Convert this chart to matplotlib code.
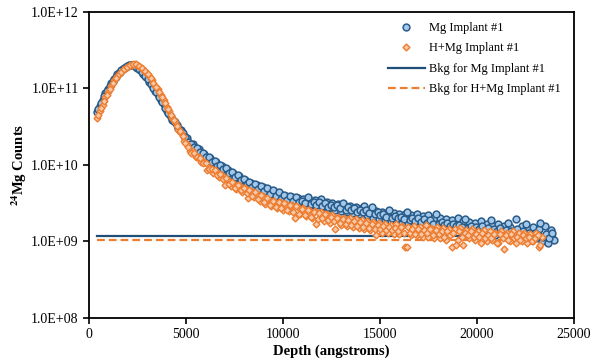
import matplotlib
matplotlib.use('Agg')
import matplotlib.pyplot as plt
import numpy as np

# depth grid (angstroms), first pass of readings
depth = [
    400, 550, 700, 850, 1000, 1150, 1300, 1450, 1600, 1750,
    1900, 2050, 2200, 2350, 2500, 2650, 2800, 2950, 3100, 3250,
    3400, 3550, 3700, 3850, 4000, 4150, 4300, 4450, 4600, 4750,
    4900, 5050, 5200, 5350, 5500, 5650, 5800, 5950, 6100, 6250,
    6400, 6550, 6700, 6850, 7000, 7150, 7300, 7450, 7600, 7750,
    7900, 8050, 8200, 8350, 8500, 8650, 8800, 8950, 9100, 9250,
    9400, 9550, 9700, 9850, 10000, 10150, 10300, 10450, 10600, 10750,
    10900, 11050, 11200, 11350, 11500, 11650, 11800, 11950, 12100, 12250,
    12400, 12550, 12700, 12850, 13000, 13150, 13300, 13450, 13600, 13750,
    13900, 14050, 14200, 14350, 14500, 14650, 14800, 14950, 15100, 15250,
    15400, 15550, 15700, 15850, 16000, 16150, 16300, 16450, 16600, 16750,
    16900, 17050, 17200, 17350, 17500, 17650, 17800, 17950, 18100, 18250,
    18400, 18550, 18700, 18850, 19000, 19150, 19300, 19450, 19600, 19750,
    19900, 20050, 20200, 20350, 20500, 20650, 20800, 20950, 21100, 21250,
    21400, 21550, 21700, 21850, 22000, 22150, 22300, 22450, 22600, 22750,
    22900, 23050, 23200, 23350, 23500, 23650, 23800, 23950,
]

# in-between depths, second pass of readings
depth_b = [
    475, 625, 775, 925, 1075, 1225, 1375, 1525, 1675, 1825,
    1975, 2125, 2275, 2425, 2575, 2725, 2875, 3025, 3175, 3325,
    3475, 3625, 3775, 3925, 4075, 4225, 4375, 4525, 4675, 4825,
    4975, 5125, 5275, 5425, 5575, 5725, 5875, 6025, 6175, 6325,
    6475, 6625, 6775, 6925, 7075, 7225, 7375, 7525, 7675, 7825,
    7975, 8125, 8275, 8425, 8575, 8725, 8875, 9025, 9175, 9325,
    9475, 9625, 9775, 9925, 10075, 10225, 10375, 10525, 10675, 10825,
    10975, 11125, 11275, 11425, 11575, 11725, 11875, 12025, 12175, 12325,
    12475, 12625, 12775, 12925, 13075, 13225, 13375, 13525, 13675, 13825,
    13975, 14125, 14275, 14425, 14575, 14725, 14875, 15025, 15175, 15325,
    15475, 15625, 15775, 15925, 16075, 16225, 16375, 16525, 16675, 16825,
    16975, 17125, 17275, 17425, 17575, 17725, 17875, 18025, 18175, 18325,
    18475, 18625, 18775, 18925, 19075, 19225, 19375, 19525, 19675, 19825,
    19975, 20125, 20275, 20425, 20575, 20725, 20875, 21025, 21175, 21325,
    21475, 21625, 21775, 21925, 22075, 22225, 22375, 22525, 22675, 22825,
    22975, 23125, 23275, 23425, 23575, 23725, 23875,
]

# 24Mg counts, in units of 1e9
mg_counts = [
    48.5, 58.5, 70, 88, 99, 116, 131, 153, 164, 181,
    190, 203, 202, 198, 184, 175, 152, 141, 121, 110,
    92, 84, 70, 62, 51, 46, 39, 36, 30, 28.5,
    23.5, 22.5, 18.5, 18.6, 16.0, 16.2, 13.8, 14.0, 12.0, 12.2,
    10.5, 10.9, 9.3, 9.8, 8.4, 8.7, 7.4, 7.8, 6.7, 7.1,
    6.0, 6.3, 5.3, 5.8, 4.9, 5.5, 4.6, 5.1, 4.2, 4.8,
    4.0, 4.5, 3.7, 4.2, 3.5, 3.9, 3.3, 3.8, 3.2, 3.7,
    3.1, 3.6, 3.0, 3.5, 2.95, 3.45, 2.85, 3.6, 2.8, 3.3,
    2.7, 3.15, 2.6, 3.05, 2.5, 2.95, 2.4, 2.9, 2.35, 2.85,
    2.25, 2.75, 2.9, 2.2, 2.6, 2.05, 2.5, 1.95, 2.45, 1.9,
    2.4, 1.85, 2.35, 1.8, 2.3, 1.75, 2.25, 1.7, 2.2, 1.75,
    2.3, 1.65, 2.15, 1.6, 2.2, 1.55, 2.0, 1.5, 2.05, 1.55,
    1.95, 1.4, 1.9, 1.45, 2.05, 1.4, 1.85, 1.35, 1.8, 1.3,
    1.75, 1.35, 1.85, 1.25, 1.7, 1.3, 1.65, 1.2, 1.7, 1.25,
    1.6, 1.15, 1.55, 1.2, 1.95, 1.1, 1.6, 1.15, 1.5, 1.05,
    1.55, 1.1, 1.45, 1.0, 1.6, 0.95, 1.4, 1.05,
]

mg_counts_b = [
    53, 64, 79, 93, 107, 124, 141, 158, 172, 186,
    197, 205, 200, 192, 179, 163, 147, 131, 115, 100,
    89, 76, 66, 56, 48, 42, 37.5, 33, 29, 26,
    23, 20, 18.8, 17.0, 16.5, 14.6, 14.4, 12.6, 12.5, 11.0,
    11.2, 9.8, 9.9, 8.8, 9.0, 7.8, 8.0, 7.0, 7.3, 6.3,
    6.5, 5.6, 6.0, 5.1, 5.6, 4.8, 5.3, 4.5, 5.0, 4.2,
    4.7, 3.9, 4.4, 3.6, 4.1, 3.5, 3.9, 3.35, 3.8, 3.25,
    3.4, 3.2, 3.75, 3.1, 3.3, 3.0, 3.25, 2.9, 3.2, 2.85,
    3.0, 2.8, 2.95, 2.7, 3.2, 2.6, 2.8, 2.55, 2.7, 2.45,
    2.6, 2.4, 2.55, 2.35, 2.8, 2.25, 2.4, 2.2, 2.3, 2.1,
    2.6, 2.05, 2.15, 2.0, 2.1, 1.95, 2.45, 1.9, 2.0, 1.85,
    2.0, 1.8, 1.95, 1.75, 1.9, 1.7, 2.25, 1.7, 1.8, 1.65,
    1.75, 1.6, 1.7, 1.6, 1.65, 1.55, 1.95, 1.5, 1.6, 1.45,
    1.55, 1.45, 1.6, 1.4, 1.5, 1.9, 1.45, 1.35, 1.5, 1.35,
    1.4, 1.75, 1.35, 1.3, 1.45, 1.25, 1.35, 1.7, 1.3, 1.2,
    1.3, 1.2, 1.75, 1.15, 1.25, 1.1, 1.3,
]

hmg_counts = [
    41, 50.5, 61.5, 76.5, 89, 108, 127, 147, 157, 173,
    184, 196, 203, 211, 202, 192, 173, 161, 143, 128,
    109, 97, 81, 71, 57, 50, 41, 36, 29, 26,
    20.5, 18.8, 15.0, 15.0, 12.8, 12.8, 10.8, 11.0, 8.6, 9.2,
    7.9, 8.4, 6.9, 7.3, 5.4, 6.4, 5.3, 5.8, 4.9, 5.4,
    4.4, 5.0, 3.7, 4.6, 3.8, 4.2, 3.4, 3.9, 3.1, 3.6,
    2.9, 3.4, 2.75, 3.25, 2.6, 3.1, 2.5, 3.0, 2.0, 2.85,
    2.3, 2.7, 2.15, 2.6, 2.05, 2.5, 1.95, 2.4, 1.85, 2.3,
    1.75, 2.2, 1.45, 2.1, 1.65, 2.05, 1.6, 2.0, 1.55, 1.95,
    1.5, 1.9, 1.45, 1.85, 1.4, 1.8, 1.2, 1.75, 1.3, 1.7,
    1.3, 1.65, 1.25, 1.7, 1.25, 1.6, 0.85, 1.55, 1.2, 1.6,
    1.2, 1.55, 1.15, 1.65, 1.15, 1.5, 1.1, 1.55, 1.1, 1.5,
    1.05, 1.45, 0.85, 1.45, 1.05, 1.5, 0.9, 1.4, 1.1, 1.45,
    1.05, 1.35, 0.95, 1.4, 1.0, 1.35, 1.05, 1.3, 0.95, 1.35,
    0.8, 1.3, 1.0, 1.35, 0.95, 1.3, 1.0, 1.3, 0.95, 1.25,
    1.0, 1.3, 0.85, 1.15,
]

hmg_counts_b = [
    45.5, 56, 69, 83, 98, 117, 137, 152, 165, 178,
    190, 200, 207, 206, 197, 183, 167, 152, 136, 119,
    103, 89, 76, 64, 54, 45.5, 38.5, 32.5, 27.5, 23.5,
    19.5, 17.2, 14.5, 14.4, 12.5, 12.4, 10.5, 10.6, 8.9, 8.9,
    8.5, 7.4, 7.6, 6.5, 6.7, 5.6, 5.9, 5.0, 5.5, 4.7,
    5.0, 4.3, 4.7, 3.9, 4.4, 3.6, 4.0, 3.3, 3.7, 3.0,
    3.4, 2.8, 3.3, 2.7, 3.2, 2.55, 3.0, 2.45, 2.9, 2.3,
    2.65, 2.2, 2.55, 2.1, 2.45, 1.7, 2.35, 2.0, 2.25, 1.9,
    2.1, 1.85, 2.0, 1.75, 1.95, 1.7, 1.9, 1.65, 1.85, 1.6,
    1.8, 1.55, 1.75, 1.5, 1.7, 1.45, 1.65, 1.45, 1.6, 1.4,
    1.55, 1.4, 1.5, 1.35, 1.55, 1.3, 0.85, 1.3, 1.45, 1.25,
    1.45, 1.25, 1.4, 1.3, 1.45, 1.2, 1.4, 1.25, 1.35, 1.15,
    1.35, 1.2, 1.3, 0.9, 1.35, 1.15, 1.3, 1.2, 1.35, 1.15,
    1.25, 1.15, 1.3, 1.1, 1.2, 1.1, 1.25, 0.95, 1.25, 1.1,
    1.2, 1.05, 1.25, 1.1, 1.15, 1.05, 1.2, 1.1, 1.15, 1.0,
    1.1, 1.2, 0.9,
]

unit = 1e9
bkg_depth = [400, 24000]
bkg_mg = 1.17
bkg_hmg = 1.05

x_ticks = [0, 5000, 10000, 15000, 20000, 25000]
y_ticks = [1e8, 1e9, 1e10, 1e11, 1e12]
y_labels = ['1.0E+08', '1.0E+09', '1.0E+10', '1.0E+11', '1.0E+12']

plt.rcParams['font.family'] = ['Liberation Serif', 'DejaVu Serif']
plt.rcParams['mathtext.fontset'] = 'stix'

fig = plt.figure(figsize=(6.01, 3.6), dpi=100)
ax = fig.add_axes([0.148, 0.117, 0.807, 0.850])

blue_dark = '#2A5C8A'
blue_light = '#A3C8E9'
orange = '#ED7D31'
orange_light = '#F8C9A6'

ax.plot(bkg_depth, [bkg_mg * unit] * 2, color='#1F4E79', lw=1.6, zorder=1,
        label='Bkg for Mg Implant #1')
ax.plot(bkg_depth, [bkg_hmg * unit] * 2, color=orange, lw=1.6, ls=(0, (3.5, 1.8)),
        zorder=1, label='Bkg for H+Mg Implant #1')

mg_x = np.concatenate([depth, depth_b])
mg_y = np.concatenate([mg_counts, mg_counts_b]) * unit
hmg_x = np.concatenate([depth[:len(hmg_counts)], depth_b[:len(hmg_counts_b)]])
hmg_y = np.concatenate([hmg_counts, hmg_counts_b]) * unit

ax.plot(mg_x, mg_y, ls='none', marker='o', ms=4.9, mfc=blue_light,
        mec=blue_dark, mew=1.1, zorder=2, label='Mg Implant #1')
ax.plot(hmg_x, hmg_y, ls='none', marker='D', ms=3.5, mfc=orange_light,
        mec=orange, mew=1.0, zorder=3, label='H+Mg Implant #1')

ax.set_yscale('log')
ax.set_xlim(0, 25000)
ax.set_ylim(1e8, 1e12)
ax.set_xticks(x_ticks)
ax.set_xticklabels([str(t) for t in x_ticks])
ax.set_yticks(y_ticks)
ax.set_yticklabels(y_labels)
ax.yaxis.set_minor_locator(matplotlib.ticker.NullLocator())
ax.tick_params(direction='out', length=4, width=1.2, labelsize=10)
for sp in ax.spines.values():
    sp.set_linewidth(1.3)

ax.set_xlabel('Depth (angstroms)', fontsize=10.5, fontweight='bold', labelpad=2)
ax.set_ylabel(r'$\mathbf{^{24}}$Mg Counts', fontsize=10.5, fontweight='bold', labelpad=1)

handles, labels = ax.get_legend_handles_labels()
order = [2, 3, 0, 1]
ax.legend([handles[i] for i in order], [labels[i] for i in order], loc='upper right',
          frameon=False, fontsize=8.9, handlelength=3.0, handletextpad=0.3,
          labelspacing=0.68, bbox_to_anchor=(0.99, 0.995), borderaxespad=0.3)

fig.savefig('out.png', dpi=100)
